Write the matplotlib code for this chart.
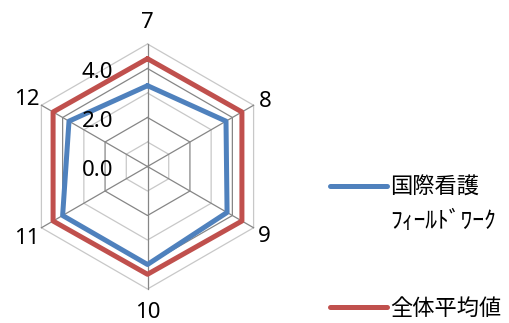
import numpy as np
import matplotlib
matplotlib.use("Agg")
import matplotlib.pyplot as plt

categories = ["7", "8", "9", "10", "11", "12"]
fieldwork = [3.3, 3.7, 3.75, 4.0, 4.0, 3.7]
overall = [4.4, 4.45, 4.45, 4.4, 4.45, 4.45]
rings = [1, 2, 3, 4, 5]
radial_ticks = [0.0, 2.0, 4.0]
series_names = ["国際看護", "全体平均値"]
name_second_line = "ﾌｨｰﾙﾄﾞﾜｰｸ"

BLUE, RED = "#4F81BD", "#C0504D"
MAJOR, MINOR = "#868686", "#C8C8C8"
JP = ["Noto Sans CJK JP", "DejaVu Sans"]

fig = plt.figure(figsize=(5.10, 3.23), dpi=100)
fig.patch.set_facecolor("white")
ax = fig.add_axes([25 / 510, 34 / 323, 245 / 510, 245 / 323], projection="polar")
ax.set_theta_offset(np.pi / 2)
ax.set_theta_direction(-1)
ax.set_ylim(0, 5)
ax.set_axis_off()

angles = np.linspace(0, 2 * np.pi, len(categories), endpoint=False)
closed = np.append(angles, angles[0])

# hexagonal grid
for r in rings:
    col = MAJOR if r % 2 == 0 else MINOR
    ax.plot(closed, [r] * len(closed), color=col, lw=0.9, zorder=1, clip_on=False)
for a in angles:
    ax.plot([a, a], [0, rings[-1]], color=MAJOR, lw=0.9, zorder=1, clip_on=False)

# series
l1, = ax.plot(closed, fieldwork + fieldwork[:1], color=BLUE, lw=3.6,
              solid_capstyle="round", zorder=3, clip_on=False)
l2, = ax.plot(closed, overall + overall[:1], color=RED, lw=3.6,
              solid_capstyle="round", zorder=3, clip_on=False)

# category labels
label_r = [6.0, 5.55, 5.5, 5.85, 5.7, 5.7]
for a, lab, r in zip(angles, categories, label_r):
    ax.text(a, r, lab, ha="center", va="center_baseline", fontsize=16,
            family="Noto Sans", color="black")

# radial value labels along the top spoke
for v in radial_ticks:
    ax.annotate(f"{v:.1f}", xy=(0, v), xytext=(-34, -1.5), textcoords="offset pixels",
                ha="right", va="center_baseline", fontsize=16, family="Noto Sans",
                color="black")

leg = fig.legend([l1, l2], series_names, loc="upper left",
                 bbox_to_anchor=(330 / 510, 1 - 176 / 323), frameon=False,
                 prop={"family": JP, "size": 16}, borderpad=0, borderaxespad=0,
                 handlelength=2.55, handletextpad=0.15, labelspacing=4.4)
for h in leg.get_lines():
    h.set_linewidth(3.6)
    h.set_solid_capstyle("round")
fig.text(390 / 510, 1 - 221 / 323, name_second_line, ha="left", va="center",
         fontsize=17, family=JP, color="black")

fig.savefig("out.png", dpi=100, facecolor="white")
